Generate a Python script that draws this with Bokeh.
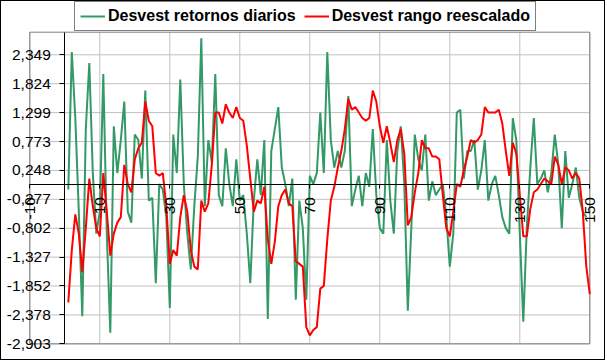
import math
from bokeh.plotting import figure
from bokeh.models import Range1d, FixedTicker, Legend, LegendItem
from bokeh.embed import file_html
from bokeh.resources import INLINE

# ---------------- data ----------------
x_green = list(range(1, 150))
green = [
    -0.1, 2.4, 1.2, -0.5, -2.4, 1.0, 2.2, 0.2, -0.9, -0.5,
    2.0, -0.9, -2.7, 1.05, 0.2, 0.8, 1.5, -0.5, -0.7, 0.9,
    0.8, 0.1, 1.7, -0.3, -0.25, -1.8, 0.0, -0.1, -0.6, -2.25,
    0.9, 0.2, 1.9, 0.0, -0.9, -1.55, -0.4, 0.5, 2.65, -0.4,
    0.8, 0.4, 2.0, -0.2, -0.4, 0.65, 0.0, -0.4, 0.45, -0.3,
    -0.2, -0.9, -1.8, -0.3, 0.45, -0.2, 0.8, -2.45, 0.6, 1.0,
    1.4, 0.3, 0.0, -0.4, 0.1, -2.1, -0.3, -0.8, -2.1, 0.15,
    0.0, 0.2, 1.3, 0.2, 2.4, 0.8, 0.3, 0.6, 0.3, 0.6,
    1.6, -0.4, -0.1, 0.15, -0.4, 0.2, -0.05, 1.0, -0.2, -0.8,
    -0.9, 0.8, -0.3, -0.9, 0.6, 1.05, 0.0, -2.3, -0.8, 0.9,
    0.45, 0.25, 0.9, -0.3, 0.05, -0.2, -0.1, 0.0, -0.6, -1.5,
    -0.9, 1.3, 1.35, 0.1, 0.6, 0.6, 0.8, -0.1, 0.25, 0.8,
    -0.3, 0.0, 0.15, -0.2, -0.6, -0.8, -0.9, 1.2, 0.8, -0.9,
    -2.5, -0.8, 0.3, 1.2, 0.0, 0.1, 0.25, -0.15, 0.2, 0.9,
    0.35, -0.8, 0.6, -0.25, 0.0, 0.3, -0.25, -0.5, -0.6,
]

x_red = list(range(1, 151))
red = [
    -2.15, -1.2, -0.55, -0.9, -1.6, -0.8, 0.1, -0.4, -0.8, -0.95,
    0.2, -0.5, -1.3, -0.9, -0.7, -0.6, 0.35, 0.0, -0.15, 0.45,
    0.65, 0.75, 1.5, 1.15, 1.05, 0.2, 0.15, 0.2, -0.4, -1.45,
    -1.2, -1.3, -0.6, -0.2, -0.5, -1.2, -1.5, -1.55, -0.3, -0.5,
    -0.35, 0.35, 1.3, 1.3, 1.1, 1.45, 1.3, 1.2, 1.4, 1.2,
    1.15, 0.7, 0.1, -0.5, -0.3, -0.35, -0.05, -1.0, -1.45, -1.05,
    -0.4, -0.2, -0.1, -0.35, -0.4, -1.4, -1.45, -1.5, -2.6, -2.75,
    -2.65, -2.6, -1.9, -1.85, -1.0, -0.3, -0.05, 0.3, 0.6, 1.0,
    1.55, 1.35, 1.4, 1.3, 1.2, 1.15, 1.2, 1.7, 1.5, 1.05,
    0.75, 1.05, 0.75, 0.4, 0.8, 1.0, 0.55, -0.75, -0.6, -0.15,
    0.2, 0.8, 0.65, 0.65, 0.5, 0.5, 0.45, -0.2, -0.8, -0.95,
    -0.5, 0.0, -0.05, 0.25, 0.5, 0.8, 0.75, 0.8, 0.9, 1.4,
    1.3, 1.3, 1.3, 1.35, 1.1, 0.6, 0.15, 0.75, 0.55, -0.2,
    -0.95, -0.95, -0.45, -0.15, -0.1, 0.0, 0.1, 0.05, 0.0, 0.5,
    0.35, 0.0, 0.3, 0.25, 0.1, 0.2, 0.1, -0.5, -1.5, -2.0,
]

series_names = ["Desvest retornos diarios", "Desvest rango reescalado"]

y_ticks = [-2.903, -2.378, -1.852, -1.327, -0.802, -0.277, 0.248, 0.773, 1.299, 1.824, 2.349]
y_tick_labels = ["-2,903", "-2,378", "-1,852", "-1,327", "-0,802", "-0,277",
                 "0,248", "0,773", "1,299", "1,824", "2,349"]
x_ticks = [-10, 10, 30, 50, 70, 90, 110, 130, 150]
x_tick_labels = ["-10", "10", "30", "50", "70", "90", "110", "130", "150"]

# plot-area limits (axis scale)
X_MIN, X_MAX = -10, 150
Y_MIN, Y_MAX = -2.903, 2.76

# ---------------- layout (pixels) ----------------
W, H = 605, 360                 # canvas (plus 1px css border each side)
AREA_L, AREA_T = 28.3, 30.7     # plot-area left / top inside canvas
PX_X = 3.5                      # px per x unit
PX_Y = 55.03                    # px per y unit
x0 = X_MIN - AREA_L / PX_X
y1 = Y_MAX + AREA_T / PX_Y
xr = Range1d(x0, x0 + W / PX_X)
yr = Range1d(y1 - H / PX_Y, y1)

p = figure(width=W, height=H, output_backend="svg", toolbar_location=None,
           x_range=xr, y_range=yr,
           min_border_left=0, min_border_right=0, min_border_top=0, min_border_bottom=0)
p.styles = {"border": "1px solid black"}
p.background_fill_color = "white"
p.border_fill_color = "white"
p.outline_line_color = None
p.xgrid.grid_line_color = None
p.ygrid.grid_line_color = None

FONT = "Liberation Sans"
GRID = "#c0c0c0"

# gridlines, limited to the plot area
p.segment(x0=x_ticks, y0=[Y_MIN] * len(x_ticks), x1=x_ticks, y1=[Y_MAX] * len(x_ticks),
          line_color=GRID, line_width=1)
p.segment(x0=[X_MIN] * len(y_ticks), y0=y_ticks, x1=[X_MAX] * len(y_ticks), y1=y_ticks,
          line_color=GRID, line_width=1)
# plot-area border
p.quad(left=[X_MIN], right=[X_MAX], bottom=[Y_MIN], top=[Y_MAX],
       fill_color=None, line_color="#808080", line_width=1)

for ax in (p.xaxis[0], p.yaxis[0]):
    ax.fixed_location = 0
    ax.axis_line_color = "black"
    ax.axis_line_width = 1
    ax.major_tick_line_color = "black"
    ax.major_tick_in = 0
    ax.minor_tick_line_color = None
    ax.major_label_text_font = FONT
    ax.major_label_text_font_size = "15.5px"
    ax.major_label_text_color = "black"

p.yaxis[0].bounds = (Y_MIN, Y_MAX)
p.yaxis[0].ticker = FixedTicker(ticks=y_ticks)
p.yaxis[0].major_label_overrides = {v: s for v, s in zip(y_ticks, y_tick_labels)}
p.yaxis[0].major_tick_out = 5
p.yaxis[0].major_label_standoff = 9

p.xaxis[0].bounds = (X_MIN, X_MAX)
p.xaxis[0].ticker = FixedTicker(ticks=x_ticks)
p.xaxis[0].major_label_overrides = {v: s for v, s in zip(x_ticks, x_tick_labels)}
p.xaxis[0].major_label_orientation = math.pi / 2
p.xaxis[0].major_tick_out = 4
p.xaxis[0].major_label_standoff = 9

r_g = p.line(x_green, green, line_color="#339966", line_width=2)
r_r = p.line(x_red, red, line_color="#ff0000", line_width=2)

legend = Legend(
    items=[LegendItem(label=series_names[0], renderers=[r_g]),
           LegendItem(label=series_names[1], renderers=[r_r])],
    orientation="horizontal", location=(73, H - 30), margin=0,
    padding=5, spacing=8, glyph_width=25, glyph_height=16, label_standoff=3,
    label_height=16, label_text_font=FONT, label_text_font_style="bold",
    label_text_font_size="16px", label_text_color="black",
    border_line_color="black", border_line_width=1,
    background_fill_color="white", background_fill_alpha=1.0,
)
p.add_layout(legend)

open("out.html", "w").write(file_html(p, INLINE))
